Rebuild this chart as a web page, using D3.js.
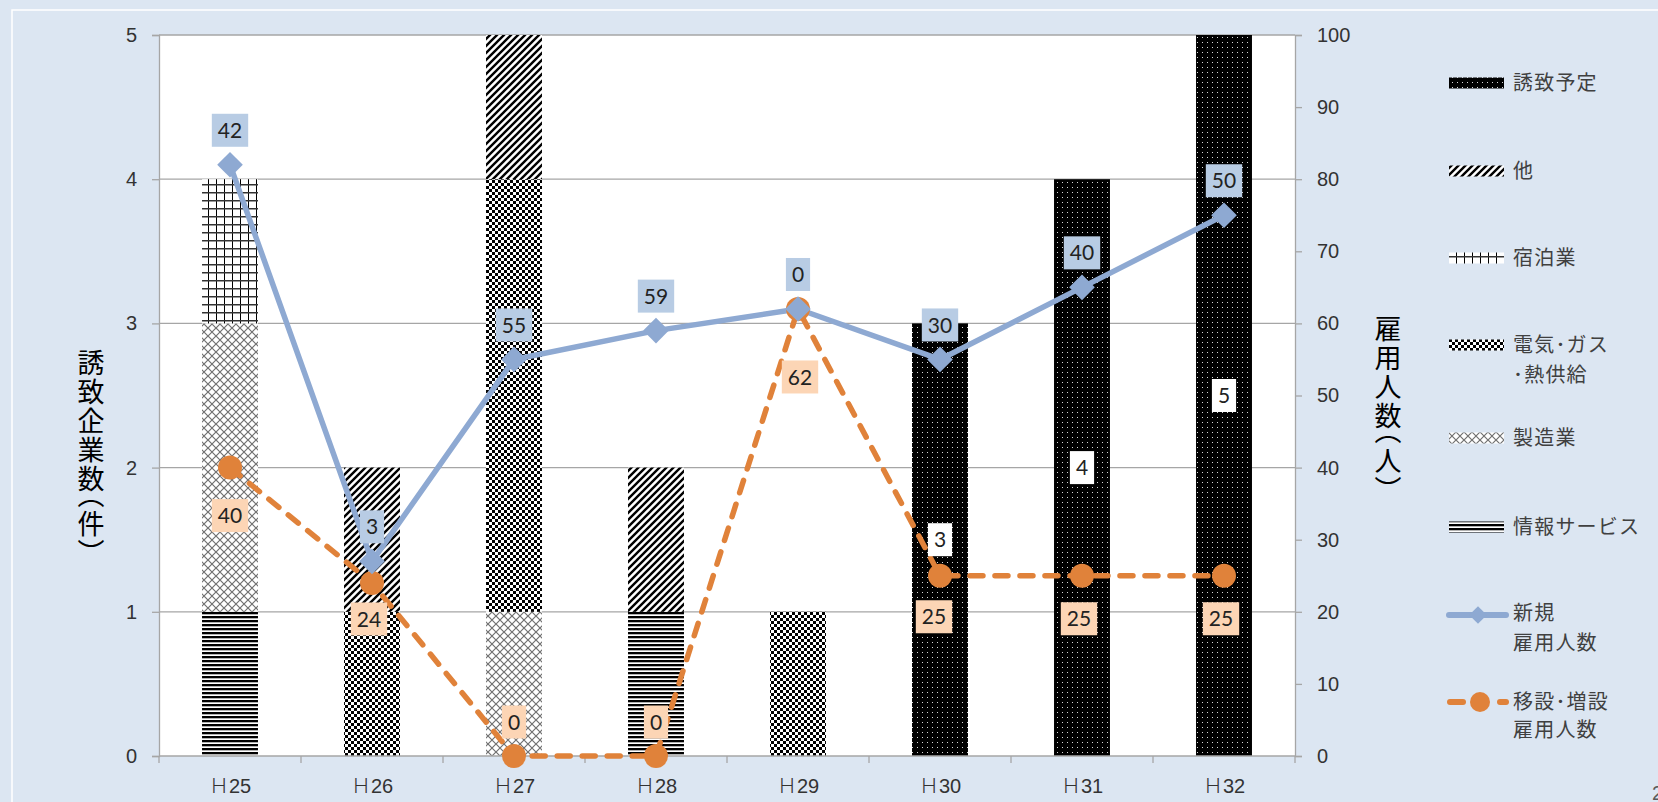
<!DOCTYPE html>
<html><head><meta charset="utf-8">
<script src="https://cdn.jsdelivr.net/npm/d3@7"></script>
<style>html,body{margin:0;padding:0;background:#dce6f2;overflow:hidden}
.vt{writing-mode:vertical-rl;}
.vp{font-feature-settings:"vhal" 1;}
</style>
</head><body><svg id="c" width="1658" height="802"></svg>
<script>
// ---- data ----
const categories = ["Ｈ25","Ｈ26","Ｈ27","Ｈ28","Ｈ29","Ｈ30","Ｈ31","Ｈ32"];
const seriesNames = ["情報サービス","製造業","電気・ガス・熱供給","宿泊業","他","誘致予定"];
const infoService   = [1,0,0,1,0,0,0,0];
const manufacturing = [2,0,1,0,0,0,0,0];
const utilities     = [0,1,3,0,1,0,0,0];
const lodging       = [1,0,0,0,0,0,0,0];
const otherInd      = [0,1,1,1,0,0,0,0];
const planned       = [0,0,0,0,0,3,4,5];
const newHires      = [42,3,55,59,0,30,40,50];
const relocHires    = [40,24,0,0,62,25,25,25];
const leftTicks  = [0,1,2,3,4,5];
const rightTicks = [0,10,20,30,40,50,60,70,80,90,100];
const leftTitle  = ["誘致企業数","（","件","）"];
const rightTitle = ["雇用人数","（","人","）"];
const legendEntries = [
  {key:"誘致予定", lines:["誘致予定"]},
  {key:"他", lines:["他"]},
  {key:"宿泊業", lines:["宿泊業"]},
  {key:"電気・ガス・熱供給", lines:["電気･ガス","･熱供給"]},
  {key:"製造業", lines:["製造業"]},
  {key:"情報サービス", lines:["情報サービス"]},
  {key:"new", lines:["新規","雇用人数"]},
  {key:"reloc", lines:["移設･増設","雇用人数"]}
];
// label nudges (layout only)
const orangeLabelDy = [48,36,-34,-34,68,41,43,43];
const orangeLabelDx = [0,-3,0,0,2,-6,-3,-3];

// ---- layout ----
const X0=159, X1=1295, Y0=35, Y1=756;
const svg = d3.select("#c");
const BLUE="#8ea9d2", ORANGE="#e0823a", AX="#a6a6a6";

svg.append("rect").attr("width",1658).attr("height",802).attr("fill","#dce6f2");
svg.append("rect").attr("x",12).attr("y",10).attr("width",1700).attr("height",900)
  .attr("fill","none").attr("stroke","#ffffff").attr("stroke-width",1.5);

// patterns
const defs = svg.append("defs");
function pat(id,w,h,draw){const p=defs.append("pattern").attr("id",id).attr("patternUnits","userSpaceOnUse").attr("width",w).attr("height",h);draw(p);}
pat("p-plan",5,5,p=>{p.append("rect").attr("width",5).attr("height",5).attr("fill","#000");p.append("rect").attr("x",2).attr("y",2).attr("width",1).attr("height",1).attr("fill","#d8d8d8");});
pat("p-other",7,7,p=>{p.append("rect").attr("width",7).attr("height",7).attr("fill","#fff");p.append("path").attr("d","M-1,1 L1,-1 M0,7 L7,0 M6,8 L8,6").attr("stroke","#000").attr("stroke-width",2.4);});
pat("p-lodge",8,8,p=>{p.append("rect").attr("width",8).attr("height",8).attr("fill","#fff");p.append("path").attr("d","M0.5,0 V8").attr("stroke","#000").attr("stroke-width",1);p.append("path").attr("d","M0,0.75 H8").attr("stroke","#333").attr("stroke-width",1.5);});
pat("p-util",6,6,p=>{p.append("rect").attr("width",6).attr("height",6).attr("fill","#fff");p.append("rect").attr("width",3).attr("height",3).attr("fill","#000");p.append("rect").attr("x",3).attr("y",3).attr("width",3).attr("height",3).attr("fill","#000");});
pat("p-manu",8,8,p=>{p.append("rect").attr("width",8).attr("height",8).attr("fill","#fff");p.append("path").attr("d","M-1,-1 L9,9 M9,-1 L-1,9").attr("stroke","#707070").attr("stroke-width",1.2);});
pat("p-info",4,4,p=>{p.append("rect").attr("width",4).attr("height",4).attr("fill","#fff");p.append("rect").attr("width",4).attr("height",2.3).attr("fill","#000");});
const fills = {"情報サービス":"url(#p-info)","製造業":"url(#p-manu)","電気・ガス・熱供給":"url(#p-util)","宿泊業":"url(#p-lodge)","他":"url(#p-other)","誘致予定":"url(#p-plan)"};

// scales
const x = d3.scaleBand().domain(categories).range([X0,X1]).paddingInner(0.606).paddingOuter(0.303);
const cx = c => x(c)+x.bandwidth()/2;
const yL = d3.scaleLinear().domain([0,5]).range([Y1,Y0]);
const yR = d3.scaleLinear().domain([0,100]).range([Y1,Y0]);

svg.append("rect").attr("x",X0).attr("y",Y0).attr("width",X1-X0).attr("height",Y1-Y0).attr("fill","#fff");

// gridlines
svg.append("g").selectAll("line").data(leftTicks.filter(d=>d>0)).join("line")
  .attr("x1",X0).attr("x2",X1).attr("y1",d=>yL(d)).attr("y2",d=>yL(d))
  .attr("stroke",AX).attr("stroke-width",1.3);

// stacked bars
const table = categories.map((c,i)=>({cat:c,"情報サービス":infoService[i],"製造業":manufacturing[i],"電気・ガス・熱供給":utilities[i],"宿泊業":lodging[i],"他":otherInd[i],"誘致予定":planned[i]}));
const stack = d3.stack().keys(seriesNames)(table);
svg.append("g").selectAll("g").data(stack).join("g").attr("fill",s=>fills[s.key])
  .selectAll("rect").data(s=>s.filter(d=>d[1]-d[0]>0)).join("rect")
  .attr("x",d=>x(d.data.cat)).attr("width",x.bandwidth())
  .attr("y",d=>yL(d[1])).attr("height",d=>yL(d[0])-yL(d[1]));

// axes
const fontNum = "'Liberation Sans', Arial, sans-serif";
const cjk = "'Noto Sans CJK JP','Noto Sans CJK SC',sans-serif";
const gL = svg.append("g").attr("transform",`translate(${X0},0)`).call(d3.axisLeft(yL).tickValues(leftTicks).tickFormat(d3.format("d")).tickSize(7).tickPadding(15));
const gR = svg.append("g").attr("transform",`translate(${X1},0)`).call(d3.axisRight(yR).tickValues(rightTicks).tickFormat(d3.format("d")).tickSize(7).tickPadding(15));
[gL,gR].forEach(g=>{g.select(".domain").attr("stroke",AX).attr("stroke-width",1.3);
  g.selectAll(".tick line").attr("stroke",AX).attr("stroke-width",1.3);
  g.selectAll(".tick text").attr("font-family",fontNum).attr("font-size",20).attr("fill","#333");});
// bottom axis
svg.append("line").attr("x1",X0).attr("x2",X1).attr("y1",Y1).attr("y2",Y1).attr("stroke",AX).attr("stroke-width",1.3);
const step = x.step();
svg.append("g").selectAll("line").data(d3.range(categories.length+1)).join("line")
  .attr("x1",i=>X0+step*i).attr("x2",i=>X0+step*i).attr("y1",Y1).attr("y2",Y1+7).attr("stroke",AX).attr("stroke-width",1.3);
const catT = svg.append("g").selectAll("text").data(categories).join("text")
  .attr("x",c=>cx(c)).attr("y",793).attr("text-anchor","middle")
  .attr("font-size",20).attr("fill","#333");
catT.append("tspan").attr("font-family",cjk).attr("font-weight",300).text(c=>c.slice(0,1));
catT.append("tspan").attr("font-family",fontNum).text(c=>c.slice(1));

// axis titles (vertical)
function vTitle(xc,yc,parts){
  const t = svg.append("text").attr("class","vt").attr("x",xc).attr("y",yc).attr("text-anchor","middle")
    .attr("font-family",cjk).attr("font-size",27).attr("font-weight",400).attr("letter-spacing",2).attr("fill","#000");
  parts.forEach(p=>{ const s=t.append("tspan").text(p); if(p==="（"||p==="）") s.attr("class","vp"); });
}
vTitle(91,452,leftTitle);
vTitle(1388,403,rightTitle);

// lines
const blueVals = newHires.map((v,i)=>v+relocHires[i]);
const line = d3.line().x(d=>cx(d.c)).y(d=>yR(d.v));
const bluePts = categories.map((c,i)=>({c,v:blueVals[i],lab:newHires[i]}));
const orPts = categories.map((c,i)=>({c,v:relocHires[i],lab:relocHires[i],i}));
svg.append("path").datum(bluePts).attr("d",line).attr("fill","none").attr("stroke",BLUE).attr("stroke-width",5.5).attr("stroke-linejoin","round");
svg.append("path").datum(orPts).attr("d",line).attr("fill","none").attr("stroke",ORANGE).attr("stroke-width",5.5)
  .attr("stroke-dasharray","13,12").attr("stroke-linecap","round");
svg.append("g").selectAll("circle").data(orPts).join("circle").attr("cx",d=>cx(d.c)).attr("cy",d=>yR(d.v)).attr("r",12).attr("fill",ORANGE);
const dsym = d3.symbol().type(d3.symbolDiamond2).size(420);
svg.append("g").selectAll("path").data(bluePts).join("path").attr("d",dsym)
  .attr("transform",d=>`translate(${cx(d.c)},${yR(d.v)})`).attr("fill",BLUE);

// labels
const labFont = "Lato, 'Open Sans', sans-serif";
function label(xc,yc,txt,bg){
  const g = svg.append("g");
  const t = g.append("text").attr("x",xc).attr("y",yc).attr("dy","0.36em").attr("text-anchor","middle")
    .attr("font-family",labFont).attr("font-size",21).attr("fill","#222").text(txt);
  const w = t.node().getComputedTextLength()+12;
  g.insert("rect","text").attr("x",xc-w/2).attr("y",yc-16.5).attr("width",w).attr("height",33).attr("fill",bg);
}
planned.forEach((v,i)=>{ if(v>0) label(cx(categories[i]), yL(v/2), String(v), "#ffffff"); });
bluePts.forEach(d=>label(cx(d.c), yR(d.v)-34.5, String(d.lab), "#b8cce4"));
orPts.forEach(d=>label(cx(d.c)+orangeLabelDx[d.i], yR(d.v)+orangeLabelDy[d.i], String(d.lab), "#fcd5b5"));

// legend
const legY = [[83],[171],[258],[345,375],[438],[527],[613,643],[702,730]];
const LX=1449, LT=1513;
const lg = svg.append("g");
legendEntries.forEach((e,i)=>{
  const y0 = legY[i][0];
  if (fills[e.key]) {
    lg.append("rect").attr("x",LX).attr("y",y0-5.5).attr("width",55).attr("height",11).attr("fill",fills[e.key]);
  } else if (e.key==="new") {
    lg.append("line").attr("x1",1449).attr("x2",1506).attr("y1",y0+2).attr("y2",y0+2).attr("stroke",BLUE).attr("stroke-width",6).attr("stroke-linecap","round");
    lg.append("path").attr("d",d3.symbol().type(d3.symbolDiamond2).size(200)).attr("transform",`translate(1478,${y0+2})`).attr("fill",BLUE);
  } else {
    lg.append("line").attr("x1",1450).attr("x2",1463).attr("y1",y0).attr("y2",y0).attr("stroke",ORANGE).attr("stroke-width",6).attr("stroke-linecap","round");
    lg.append("circle").attr("cx",1480).attr("cy",y0).attr("r",10).attr("fill",ORANGE);
    lg.append("line").attr("x1",1500).attr("x2",1506).attr("y1",y0).attr("y2",y0).attr("stroke",ORANGE).attr("stroke-width",6).attr("stroke-linecap","round");
  }
  e.lines.forEach((ln,j)=>{
    lg.append("text").attr("x",LT).attr("y",legY[i][j]).attr("dy","0.36em")
      .attr("font-family",cjk).attr("font-size",20).attr("letter-spacing",1.2).attr("fill","#404040").text(ln);
  });
});
svg.append("text").attr("x",1652).attr("y",800).attr("font-family",fontNum).attr("font-size",20).attr("fill","#595959").text("2");
</script></body></html>
